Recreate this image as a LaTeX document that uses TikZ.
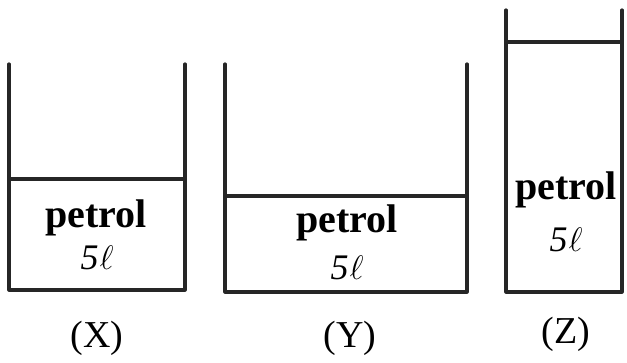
\documentclass[tikz,border=0pt]{standalone}
\usepackage{fix-cm}
\usepackage{fontspec}
\setmainfont{Liberation Serif}
\newcommand{\vollabel}{5\kern1pt{\fontsize{34}{36}\selectfont$\ell$}}
\begin{document}
\begin{tikzpicture}[x=1pt,y=-1pt,
  wall/.style={line width=3.2pt, line cap=round, line join=round, black!85},
  liq/.style={font=\fontsize{40}{42}\selectfont\bfseries, inner sep=0pt},
  vol/.style={font=\fontsize{36}{38}\selectfont\itshape, inner sep=0pt},
  lab/.style={font=\fontsize{38}{40}\selectfont, inner sep=0pt}]
\useasboundingbox (0,0) rectangle (627,362);
% X
\draw[wall] (9,64) -- (9,290) -- (185,290) -- (185,64);
\draw[wall] (9,179) -- (185,179);
\node[liq] (px) at (96,218) {petrol};
\node[vol] (vx) at (97,258) {\vollabel};
\node[lab] (lx) at (97,338) {(X)};
% Y
\draw[wall] (225,64) -- (225,292) -- (467,292) -- (467,64);
\draw[wall] (225,196) -- (467,196);
\node[liq] (py) at (347,223) {petrol};
\node[vol] (vy) at (347,268) {\vollabel};
\node[lab] (ly) at (350,338) {(Y)};
% Z
\draw[wall] (506,10) -- (506,292) -- (622,292) -- (622,10);
\draw[wall] (506,42) -- (622,42);
\node[liq] (pz) at (566,190) {petrol};
\node[vol] (vz) at (566,240) {\vollabel};
\node[lab] (lz) at (566,334) {(Z)};
\end{tikzpicture}
\end{document}
